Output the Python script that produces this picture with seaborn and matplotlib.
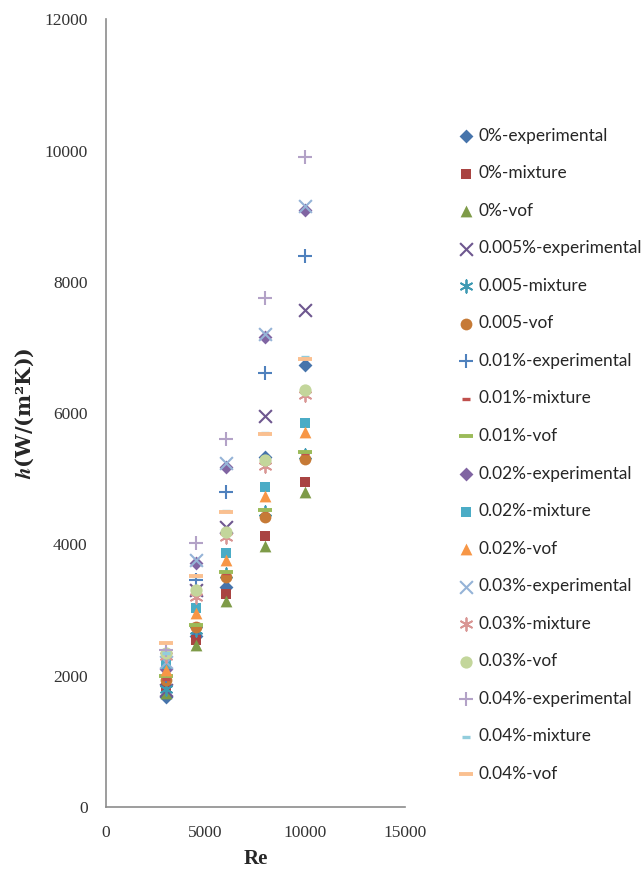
import matplotlib
matplotlib.use("Agg")
import matplotlib.pyplot as plt
import pandas as pd
import seaborn as sns

# Reynolds numbers (x values shared by every series)
re_vals = [3000, 4500, 6000, 8000, 10000]

# heat transfer coefficient h
h_0_exp = [1670, 2600, 3350, 5330, 6730]
h_0_mix = [1810, 2540, 3240, 4130, 4950]
h_0_vof = [1740, 2470, 3140, 3970, 4800]
h_005_exp = [1780, 3300, 4270, 5950, 7570]
h_005_mix = [1790, 2700, 3550, 4500, 5360]
h_005_vof = [1930, 2740, 3500, 4420, 5300]
h_01_exp = [2000, 3460, 4800, 6610, 8390]
h_01_mix = [1950, 2780, 3560, 4530, 5390]
h_01_vof = [1990, 2770, 3580, 4520, 5400]
h_02_exp = [2100, 3720, 5180, 7160, 9100]
h_02_mix = [2180, 3030, 3870, 4870, 5850]
h_02_vof = [2090, 2950, 3760, 4740, 5710]
h_03_exp = [2200, 3760, 5240, 7200, 9160]
h_03_mix = [2300, 3200, 4110, 5200, 6270]
h_03_vof = [2340, 3300, 4190, 5280, 6350]
h_04_exp = [2390, 4020, 5600, 7750, 9900]
h_04_mix = [2350, 3520, 4510, 5700, 6850]
h_04_vof = [2500, 3520, 4490, 5680, 6830]

labels = ["0%-experimental", "0%-mixture", "0%-vof",
          "0.005%-experimental", "0.005-mixture", "0.005-vof",
          "0.01%-experimental", "0.01%-mixture", "0.01%-vof",
          "0.02%-experimental", "0.02%-mixture", "0.02%-vof",
          "0.03%-experimental", "0.03%-mixture", "0.03%-vof",
          "0.04%-experimental", "0.04%-mixture", "0.04%-vof"]
values = [h_0_exp, h_0_mix, h_0_vof, h_005_exp, h_005_mix, h_005_vof,
          h_01_exp, h_01_mix, h_01_vof, h_02_exp, h_02_mix, h_02_vof,
          h_03_exp, h_03_mix, h_03_vof, h_04_exp, h_04_mix, h_04_vof]

# style per series: marker, colour, size, line width
styles = [
    ("D", "#4674AB", 50, 0), ("s", "#A94442", 62, 0), ("^", "#7E9B48", 72, 0),
    ("x", "#6E578F", 85, 1.5), ((6, 2, 0), "#3E9AB3", 80, 1.3), ("o", "#C67A36", 72, 0),
    ("+", "#4F81BD", 110, 1.5), ("_", "#C0504D", 30, 2.4), ("_", "#9BBB59", 90, 2.8),
    ("D", "#8064A2", 50, 0), ("s", "#4BACC6", 62, 0), ("^", "#F79646", 72, 0),
    ("x", "#95B3D7", 85, 1.5), ((6, 2, 0), "#D99694", 80, 1.3), ("o", "#C3D69B", 78, 0),
    ("+", "#B3A2C7", 110, 1.5), ("_", "#92CDDC", 30, 2.4), ("_", "#FAC090", 90, 2.8),
]

sns.set_style("white")
plt.rcParams["mathtext.fontset"] = "stix"

fig = plt.figure(figsize=(6.41, 8.77), dpi=100)
ax = fig.add_axes([0.165, 0.08, 0.467, 0.898])

for lab, vals, (mk, col, size, lw) in zip(labels, values, styles):
    d = pd.DataFrame({"Re": re_vals, "h": vals})
    sns.scatterplot(data=d, x="Re", y="h", ax=ax, marker=mk, color=col,
                    s=size, linewidth=lw, label=lab, zorder=3)

ax.set_xlim(0, 15000)
ax.set_ylim(0, 12000)
ax.set_xticks([0, 5000, 10000, 15000])
ax.set_yticks(range(0, 12001, 2000))
for s in ["top", "right"]:
    ax.spines[s].set_visible(False)
for s in ["left", "bottom"]:
    ax.spines[s].set_color("#8c8c8c")
    ax.spines[s].set_linewidth(1.2)
ax.tick_params(axis="y", length=0, pad=13, labelsize=12.5, colors="#333333")
ax.tick_params(axis="x", length=0, pad=13, labelsize=12.5, colors="#333333")
for t in ax.get_xticklabels() + ax.get_yticklabels():
    t.set_family("Liberation Serif")

ax.set_xlabel("Re", fontsize=15, fontweight="bold", family="Liberation Serif", labelpad=6)
ax.set_ylabel(r"$\mathbfit{h}$(W/(m²K))", fontsize=15, fontweight="bold",
              family="DejaVu Serif", labelpad=6)

ax.legend(loc="upper left", bbox_to_anchor=(1.158, 0.871), frameon=False,
          prop={"family": "Lato", "size": 12.4}, labelspacing=1.25,
          handlelength=0.8, handletextpad=0.3, borderaxespad=0, scatterpoints=1)

fig.savefig("out.png", dpi=100)
